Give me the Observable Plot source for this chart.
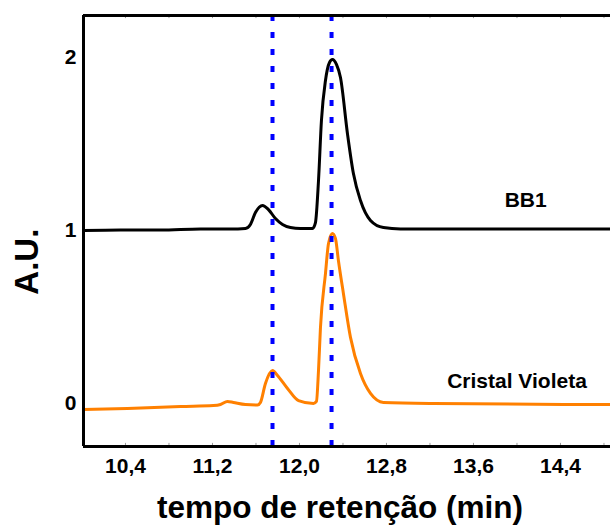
<!DOCTYPE html>
<html>
<head>
<meta charset="utf-8">
<script src="https://cdn.jsdelivr.net/npm/d3@7"></script>
<script src="https://cdn.jsdelivr.net/npm/@observablehq/plot@0.6"></script>
<style>
  html, body { margin: 0; padding: 0; background: #fff; }
  #chart { width: 610px; height: 527px; }
</style>
</head>
<body>
<div id="chart"></div>
<script>
// ---- data ----
const bb1Time = [10.014, 10.354, 10.722, 11.090, 11.366, 11.503, 11.549, 11.595, 11.660, 11.715, 11.779, 11.844, 11.917, 12.009, 12.120, 12.147, 12.175, 12.202, 12.239, 12.276, 12.303, 12.340, 12.377, 12.441, 12.496, 12.561, 12.653, 12.772, 12.929, 13.848, 14.860];
const bb1Value = [1.000, 1.003, 1.003, 1.009, 1.009, 1.012, 1.035, 1.104, 1.145, 1.121, 1.069, 1.035, 1.017, 1.012, 1.012, 1.046, 1.289, 1.636, 1.867, 1.971, 1.988, 1.960, 1.884, 1.561, 1.329, 1.173, 1.058, 1.017, 1.009, 1.009, 1.009];

const cvTime = [10.014, 10.418, 10.906, 11.209, 11.274, 11.338, 11.393, 11.503, 11.614, 11.641, 11.687, 11.752, 11.798, 11.890, 11.991, 12.129, 12.156, 12.175, 12.193, 12.239, 12.267, 12.303, 12.331, 12.358, 12.404, 12.469, 12.561, 12.653, 12.772, 13.232, 14.860];
const cvValue = [-0.035, -0.029, -0.017, -0.012, -0.006, 0.012, 0.006, -0.006, -0.009, 0.006, 0.116, 0.191, 0.162, 0.087, 0.017, 0.000, 0.012, 0.191, 0.439, 0.751, 0.925, 0.983, 0.954, 0.827, 0.636, 0.382, 0.173, 0.058, 0.006, 0.000, -0.006];

const markerTimes = [11.752, 12.295];
const xTicks = [10.4, 11.2, 12.0, 12.8, 13.6, 14.4];
const xMinorTicks = [10.4, 10.8, 11.2, 11.6, 12.0, 12.4, 12.8, 13.2, 13.6, 14.0, 14.4, 14.8];
const yTicks = [0, 1, 2];
const seriesLabels = [
  {name: "BB1", t: 14.08, v: 1.133},
  {name: "Cristal Violeta", t: 14.0, v: 0.087}
];
const xTitle = "tempo de retenção (min)";
const yTitle = {name: "A.U.", t: 9.6, v: 0.82};

// ---- build tables ----
const bb1 = bb1Time.map((t, i) => ({t, v: bb1Value[i]}));
const cv = cvTime.map((t, i) => ({t, v: cvValue[i]}));

const xDomain = [10.014, 14.86];
const yDomain = [-0.2486, 2.2428];
const font = "'Liberation Sans', Arial, Helvetica, sans-serif";

const chart = Plot.plot({
  width: 610,
  height: 527,
  marginLeft: 83,
  marginRight: 0,
  marginTop: 15,
  marginBottom: 81,
  style: {fontFamily: font, background: "#fff", overflow: "visible"},
  x: {domain: xDomain},
  y: {domain: yDomain},
  marks: [
    // minor inward ticks on top and bottom
    Plot.ruleX(xMinorTicks, {x: d => d, y1: yDomain[0], y2: yDomain[0] + 0.018, stroke: "#999", strokeWidth: 1}),
    Plot.ruleX(xMinorTicks, {x: d => d, y1: yDomain[1], y2: yDomain[1] - 0.018, stroke: "#999", strokeWidth: 1}),
    Plot.axisX(xTicks, {
      tickSize: 0, tickPadding: 12, fontSize: 21, fontWeight: "bold", fill: "#000",
      tickFormat: d => d.toFixed(1).replace(".", ","), label: null
    }),
    Plot.axisY(yTicks, {
      tickSize: 0, tickPadding: 7, fontSize: 21, fontWeight: "bold", fill: "#000",
      tickFormat: d => String(d), label: null
    }),
    Plot.line(bb1, {x: "t", y: "v", stroke: "#000", strokeWidth: 3, curve: "monotone-x"}),
    Plot.line(cv, {x: "t", y: "v", stroke: "#ff8000", strokeWidth: 3, curve: "monotone-x"}),
    Plot.ruleX(markerTimes, {x: d => d, stroke: "#0000ff", strokeWidth: 4, strokeDasharray: "6,11"}),
    // frame: left, top, bottom
    Plot.ruleX([xDomain[0]], {stroke: "#000", strokeWidth: 3}),
    Plot.ruleY([yDomain[0], yDomain[1]], {stroke: "#000", strokeWidth: 3}),
    Plot.text(seriesLabels, {x: "t", y: "v", text: "name", fontSize: 21, fontWeight: "bold", fill: "#000", lineAnchor: "bottom", textAnchor: "middle"}),
    Plot.text([xTitle], {frameAnchor: "bottom", lineAnchor: "bottom", dy: 71, dx: -7, fontSize: 31.5, fontWeight: "bold", fill: "#000"}),
    Plot.text([yTitle], {x: "t", y: "v", text: "name", lineAnchor: "bottom", textAnchor: "middle", rotate: -90, fontSize: 33, fontWeight: "bold", fill: "#000"})
  ]
});
document.getElementById("chart").appendChild(chart);
</script>
</body>
</html>
